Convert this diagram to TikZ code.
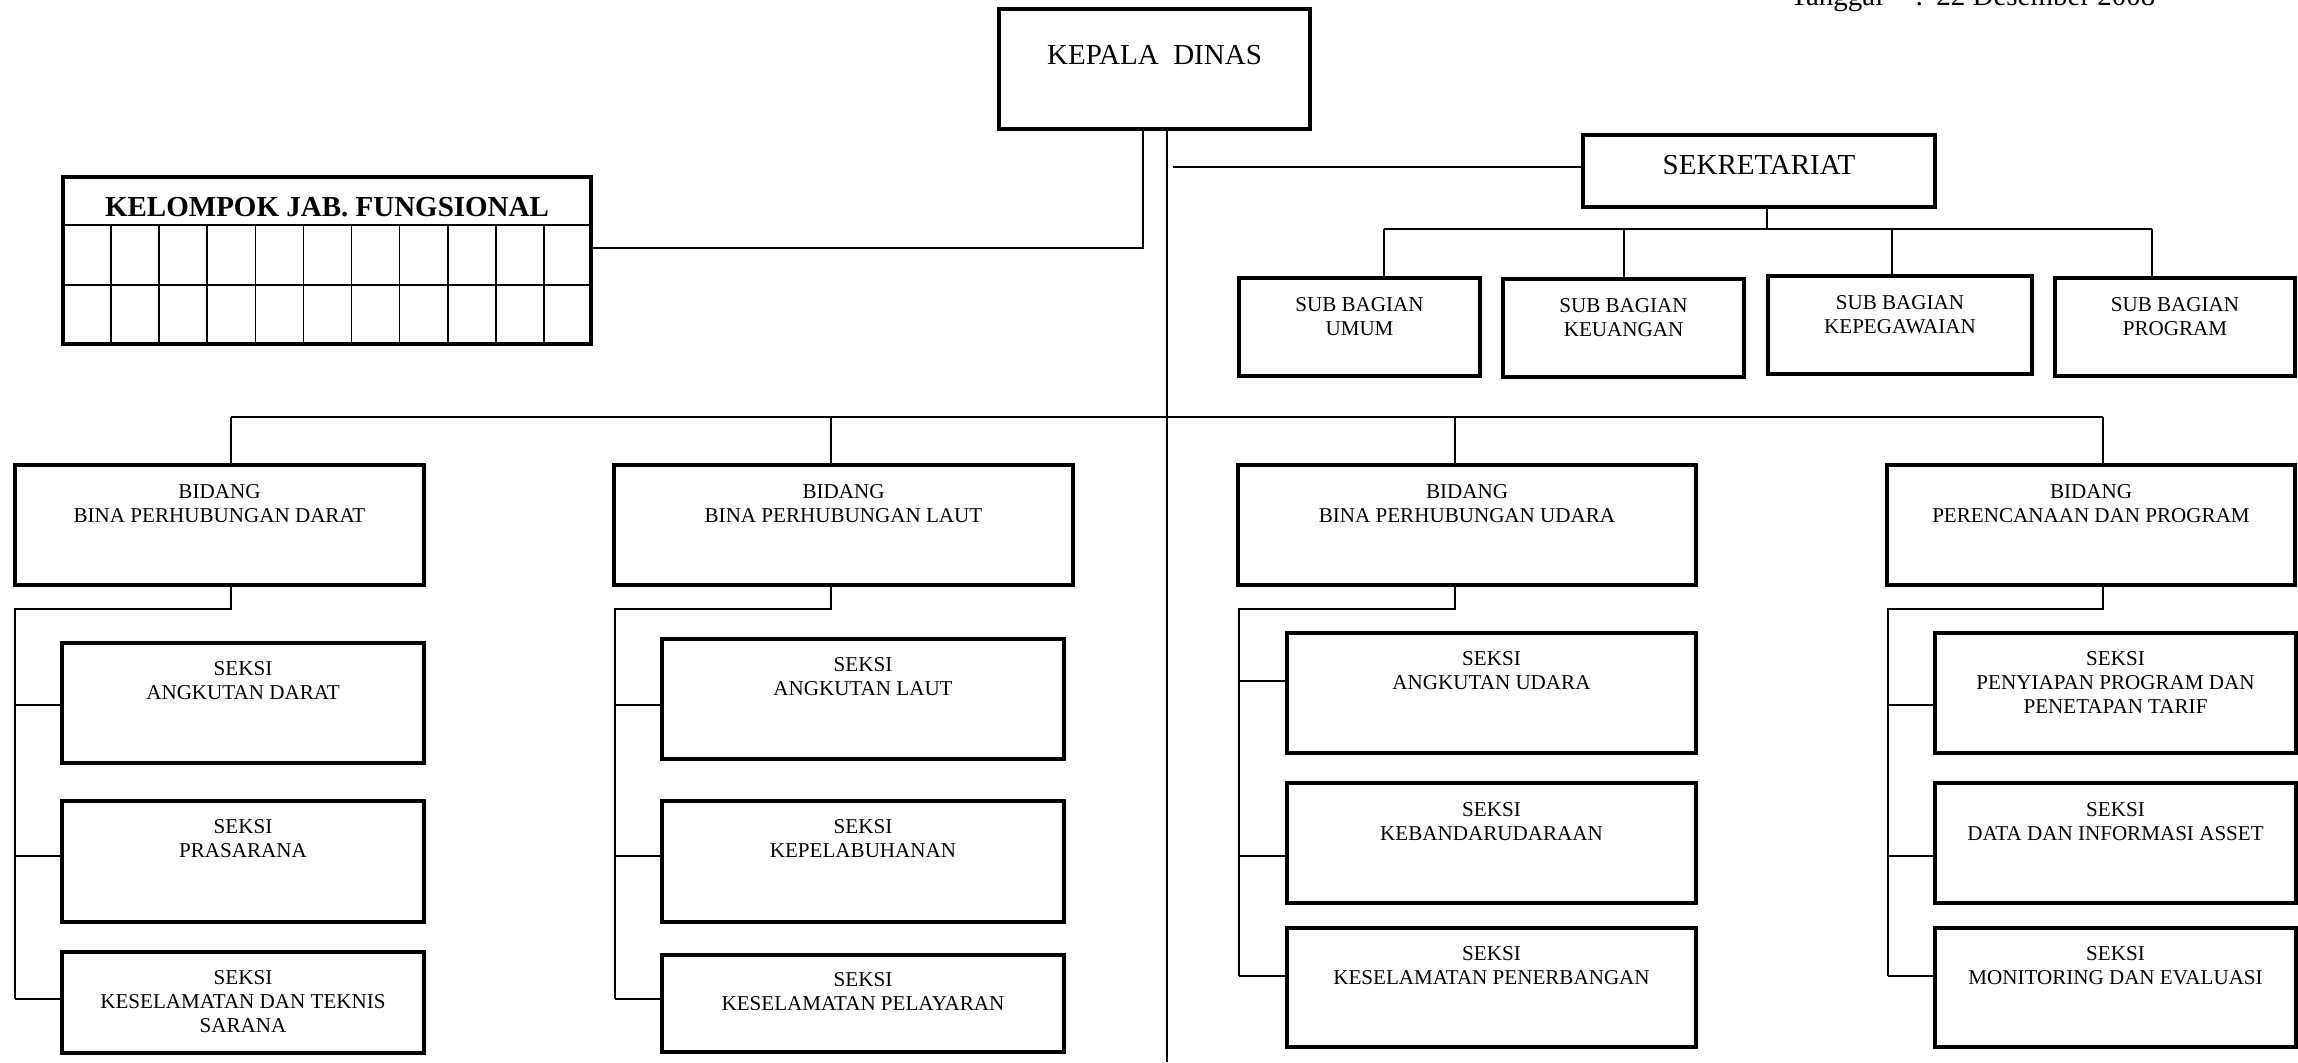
\documentclass[tikz,border=0pt]{standalone}
\usepackage{fontspec}
\setmainfont{Liberation Serif}
\usetikzlibrary{fit,calc}
\tikzset{
  obox/.style={draw, line width=0.68mm, inner sep=0pt, outer sep=0pt},
  conn/.style={draw, line width=0.34mm},
  gridline/.style={line width=0.34mm},
  txt/.style={inner sep=0pt, align=center, anchor=north, font=\fontsize{12}{13.7}\selectfont},
  bigtxt/.style={inner sep=0pt, align=center, anchor=north, font=\fontsize{16.5}{19}\selectfont},
  boldtxt/.style={inner sep=0pt, align=center, anchor=north, font=\fontsize{16.5}{19}\selectfont\bfseries},
}
% \obx[textstyle]{name}{x1}{y1}{x2}{y2}{text offset}{text}
\newcommand\obx[8][txt]{%
  \node[obox, fit={(#3,#4) (#5,#6)}] (#2) {};
  \node[#1] (#2-t) at ($(#2.north)+(0,#7)$) {#8};
}
\begin{document}
\begin{tikzpicture}[x=0.2mm, y=-0.2mm]
\fill[white] (0,0) rectangle (2298,1062);
\useasboundingbox (0,0) rectangle (2298,1062);

% date
\node[anchor=base west, inner sep=0pt, font=\fontsize{16.5}{19}\selectfont] (tgl) at (1790,5) {Tanggal\hspace{1.1em}:\hspace{0.45em}22 Desember 2008};

% top level
\obx[bigtxt]{kepala}{999}{9}{1310}{129}{36}{KEPALA\hspace{0.5em}DINAS}
\obx[bigtxt]{sek}{1583}{135}{1935}{207}{20}{SEKRETARIAT}

% sub bagian
\obx{umum}{1239}{278}{1480}{376}{19}{SUB BAGIAN\\UMUM}
\obx{keu}{1503}{279}{1744}{377}{19}{SUB BAGIAN\\KEUANGAN}
\obx{peg}{1768}{276}{2032}{374}{19}{SUB BAGIAN\\KEPEGAWAIAN}
\obx{prog}{2055}{278}{2295}{376}{19}{SUB BAGIAN\\PROGRAM}

% kelompok jabatan fungsional
\draw[gridline] (63,225) -- (591,225);
\draw[gridline] (63,285) -- (591,285);
\foreach \i in {1,...,10} \draw[gridline] ({63+48.09*\i},225) -- ({63+48.09*\i},344);
\obx[boldtxt]{kel}{63}{177}{591}{344}{20}{KELOMPOK JAB. FUNGSIONAL}

% bidang
\obx{darat}{15}{465}{424}{585}{19}{BIDANG\\BINA PERHUBUNGAN DARAT}
\obx{laut}{614}{465}{1073}{585}{19}{BIDANG\\BINA PERHUBUNGAN LAUT}
\obx{udara}{1238}{465}{1696}{585}{19}{BIDANG\\BINA PERHUBUNGAN UDARA}
\obx{renc}{1887}{465}{2295}{585}{19}{BIDANG\\PERENCANAAN DAN PROGRAM}

% seksi darat
\obx{d1}{62}{643}{424}{763}{18}{SEKSI\\ANGKUTAN DARAT}
\obx{d2}{62}{801}{424}{922}{18}{SEKSI\\PRASARANA}
\obx{d3}{62}{952}{424}{1053}{18}{SEKSI\\KESELAMATAN DAN TEKNIS\\SARANA}
% seksi laut
\obx{l1}{662}{639}{1064}{759}{18}{SEKSI\\ANGKUTAN LAUT}
\obx{l2}{662}{801}{1064}{922}{18}{SEKSI\\KEPELABUHANAN}
\obx{l3}{662}{955}{1064}{1052}{17}{SEKSI\\KESELAMATAN PELAYARAN}
% seksi udara
\obx{u1}{1287}{633}{1696}{753}{18}{SEKSI\\ANGKUTAN UDARA}
\obx{u2}{1287}{783}{1696}{903}{19}{SEKSI\\KEBANDARUDARAAN}
\obx{u3}{1287}{928}{1696}{1047}{18}{SEKSI\\KESELAMATAN PENERBANGAN}
% seksi perencanaan
\obx{r1}{1935}{633}{2296}{753}{18}{SEKSI\\PENYIAPAN PROGRAM DAN\\PENETAPAN TARIF}
\obx{r2}{1935}{783}{2296}{903}{19}{SEKSI\\DATA DAN INFORMASI ASSET}
\obx{r3}{1935}{928}{2296}{1047}{18}{SEKSI\\MONITORING DAN EVALUASI}

% connectors: kepala
\coordinate (k1) at (1143,248);
\draw[conn] (k1 |- kepala.south) -- (k1) -- (k1 -| kel.east);
\coordinate (k2) at (1167,1062);
\draw[conn] (k2 |- kepala.south) -- (k2);
\coordinate (s0) at (1173,167);
\draw[conn] (s0) -- (s0 -| sek.west);

% sekretariat to sub bagian
\coordinate (sj) at (1767,229);
\draw[conn] (sj |- sek.south) -- (sj);
\coordinate (sa) at (1384,229);
\coordinate (sb) at (1624,229);
\coordinate (sc) at (1892,229);
\coordinate (sd) at (2152,229);
\draw[conn] (sa) -- (sd);
\foreach \c/\n in {sa/umum, sb/keu, sc/peg, sd/prog} \draw[conn] (\c) -- (\c |- \n.north);

% bus to bidang
\coordinate (b1) at (231,417);
\coordinate (b2) at (831,417);
\coordinate (b3) at (1455,417);
\coordinate (b4) at (2103,417);
\draw[conn] (b1) -- (b4);
\foreach \c/\n in {b1/darat, b2/laut, b3/udara, b4/renc} \draw[conn] (\c) -- (\c |- \n.north);

% darat column
\coordinate (td) at (15,609);
\coordinate (d1j) at (15,705);
\coordinate (d2j) at (15,856);
\coordinate (d3j) at (15,999);
\draw[conn] (b1 |- darat.south) -- (b1 |- td) -- (td) -- (d3j);
\foreach \c/\n in {d1j/d1, d2j/d2, d3j/d3} \draw[conn] (\c) -- (\c -| \n.west);

% laut column
\coordinate (tl) at (615,609);
\coordinate (l1j) at (615,705);
\coordinate (l2j) at (615,856);
\coordinate (l3j) at (615,999);
\draw[conn] (b2 |- laut.south) -- (b2 |- tl) -- (tl) -- (l3j);
\foreach \c/\n in {l1j/l1, l2j/l2, l3j/l3} \draw[conn] (\c) -- (\c -| \n.west);

% udara column
\coordinate (tu) at (1239,609);
\coordinate (u1j) at (1239,681);
\coordinate (u2j) at (1239,856);
\coordinate (u3j) at (1239,976);
\draw[conn] (b3 |- udara.south) -- (b3 |- tu) -- (tu) -- (u3j);
\foreach \c/\n in {u1j/u1, u2j/u2, u3j/u3} \draw[conn] (\c) -- (\c -| \n.west);

% perencanaan column
\coordinate (tr) at (1888,609);
\coordinate (r1j) at (1888,705);
\coordinate (r2j) at (1888,856);
\coordinate (r3j) at (1888,976);
\draw[conn] (b4 |- renc.south) -- (b4 |- tr) -- (tr) -- (r3j);
\foreach \c/\n in {r1j/r1, r2j/r2, r3j/r3} \draw[conn] (\c) -- (\c -| \n.west);
\end{tikzpicture}
\end{document}
